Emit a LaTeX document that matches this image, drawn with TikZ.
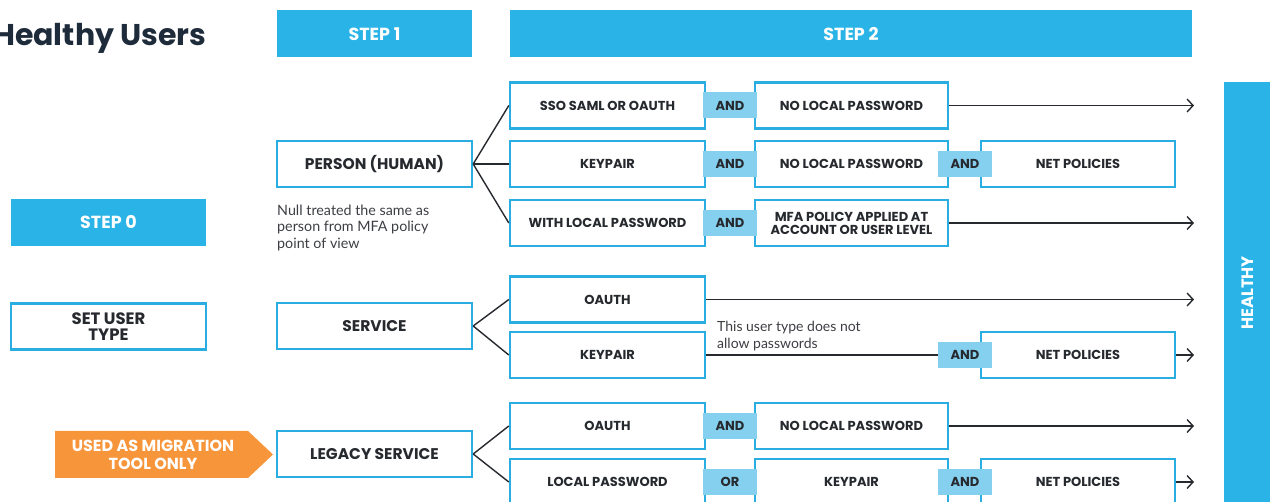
\documentclass[tikz,border=0pt]{standalone}
\usepackage{fontspec}
\setmainfont{Lato}
\newfontfamily\lab{Poppins}
\usetikzlibrary{arrows.meta}

\definecolor{stepblue}{HTML}{29B3E6}
\definecolor{edgeblue}{HTML}{2AAEE2}
\definecolor{andfill}{HTML}{85CFEF}
\definecolor{ink}{HTML}{26292E}
\definecolor{titleink}{HTML}{1E2B3A}
\definecolor{tagorange}{HTML}{F7953B}

\tikzset{
  labfont/.style={font=\lab\bfseries\fontsize{13}{13}\selectfont},
  bigfont/.style={font=\lab\bfseries\fontsize{15.5}{16}\selectfont},
  box/.style={draw=edgeblue, line width=2.4pt, fill=white, minimum width=195pt,
    minimum height=46pt, inner sep=0pt, align=center, labfont, text=ink},
  joinbox/.style={fill=andfill, minimum width=54pt, minimum height=26pt,
    inner sep=0pt, labfont, text=ink},
  stepbar/.style={fill=stepblue, minimum height=47pt, inner sep=0pt,
    font=\lab\bfseries\fontsize{17.5}{18}\selectfont, text=white},
  fan/.style={line width=1.4pt, draw=ink},
  flow/.style={fan, -{Straight Barb[length=6pt,width=13pt,line width=1.4pt]}},
  note/.style={anchor=north west, align=left, inner sep=0pt, text=ink!90,
    font=\fontsize{14.3}{16.5}\selectfont}
}

\begin{document}
\begin{tikzpicture}[x=1pt,y=-1pt]
\useasboundingbox (0,0) rectangle (1270,502);
\clip (0,0) rectangle (1270,502);

% title, running off the left edge
\node[anchor=west, inner sep=0pt, text=titleink,
      font=\lab\bfseries\fontsize{30}{33}\selectfont] (title) at (-7,38) {Healthy Users};

% column headers
\node[stepbar, minimum width=195pt] (step1) at (374.5,34) {STEP 1};
\node[stepbar, minimum width=682pt] (step2) at (851,34) {STEP 2};
\node[stepbar, minimum width=195pt] (step0) at (108.5,222.5) {STEP 0};

% right-hand result bar
\node[fill=stepblue, minimum width=66pt, minimum height=440pt, inner sep=0pt]
  (healthybar) at (1257,302) {};
\node[rotate=90, text=white, font=\lab\bfseries\fontsize{16.5}{17}\selectfont]
  (healthy) at (1248,293) {HEALTHY};

% step 0
\node[box, font=\lab\bfseries\fontsize{16.5}{15.5}\selectfont] (settype) at (108.5,326.5) {SET USER\\TYPE};

% step 1 user types
\node[box, bigfont] (person) at (374.5,164) {PERSON (HUMAN)};
\node[box, bigfont] (service) at (374.5,326) {SERVICE};
\node[box, bigfont] (legacy) at (374.5,454) {LEGACY SERVICE};

\node[note] (nullnote) at (277,204.5) {Null treated the same as\\person from MFA policy\\point of view};

% migration tag
\fill[tagorange] (55,431) -- (248,431) -- (273,454.5) -- (248,478) -- (55,478) -- cycle;
\node[align=center, text=white, font=\lab\bfseries\fontsize{16}{18.5}\selectfont]
  (migration) at (153,455) {USED AS MIGRATION\\TOOL ONLY};

% end of every healthy path
\coordinate (fin) at (1194,0);

% step 2: person
\node[box] (p1a) at (607.5,105.5) {SSO SAML OR OAUTH};
\node[box, minimum width=193pt] (p1b) at (851.5,105.5) {NO LOCAL PASSWORD};
\node[joinbox] (p1and) at (730,105.5) {AND};

\node[box] (p2a) at (607.5,164) {KEYPAIR};
\node[box, minimum width=193pt] (p2b) at (851.5,164) {NO LOCAL PASSWORD};
\node[box, minimum width=194pt] (p2c) at (1078,164) {NET POLICIES};
\node[joinbox] (p2and) at (730,164) {AND};
\node[joinbox] (p2and2) at (965,164) {AND};

\node[box] (p3a) at (607.5,223) {WITH LOCAL PASSWORD};
\node[box, minimum width=193pt] (p3b) at (851.5,223) {MFA POLICY APPLIED AT\\ACCOUNT OR USER LEVEL};
\node[joinbox] (p3and) at (730,223) {AND};

% step 2: service
\node[box] (s1a) at (607.5,299.5) {OAUTH};
\node[box] (s2a) at (607.5,355) {KEYPAIR};
\node[box, minimum width=194pt] (s2c) at (1078,355) {NET POLICIES};
\node[joinbox] (s2and) at (965,355) {AND};
\node[note, font=\fontsize{14}{17}\selectfont] (pwnote) at (717,320.5) {This user type does not\\allow passwords};

% step 2: legacy service
\node[box] (l1a) at (607.5,426) {OAUTH};
\node[box, minimum width=193pt] (l1b) at (851.5,426) {NO LOCAL PASSWORD};
\node[joinbox] (l1and) at (730,426) {AND};

\node[box] (l2a) at (607.5,482) {LOCAL PASSWORD};
\node[box, minimum width=193pt] (l2b) at (851.5,482) {KEYPAIR};
\node[box, minimum width=194pt] (l2c) at (1078,482) {NET POLICIES};
\node[joinbox] (l2or) at (730,482) {OR};
\node[joinbox] (l2and) at (965,482) {AND};

% fan-out from each user type
\draw[fan] (person.east) -- (p1a.west);
\draw[fan] (person.east) -- (p2a.west);
\draw[fan] (person.east) -- (p3a.west);
\draw[fan] (service.east) -- (s1a.west);
\draw[fan] (service.east) -- (s2a.west);
\draw[fan] (legacy.east) -- (l1a.west);
\draw[fan] (legacy.east) -- (l2a.west);

% paths to healthy
\draw[flow] (p1b.east) -- (p1b.east -| fin);
\draw[flow] (p3b.east) -- (p3b.east -| fin);
\draw[flow] (s1a.east) -- (s1a.east -| fin);
\draw[fan] (s2a.east) -- (s2and.west);
\draw[flow] (s2c.east) -- (s2c.east -| fin);
\draw[flow] (l1b.east) -- (l1b.east -| fin);
\draw[flow] (l2c.east) -- (l2c.east -| fin);
\end{tikzpicture}
\end{document}
